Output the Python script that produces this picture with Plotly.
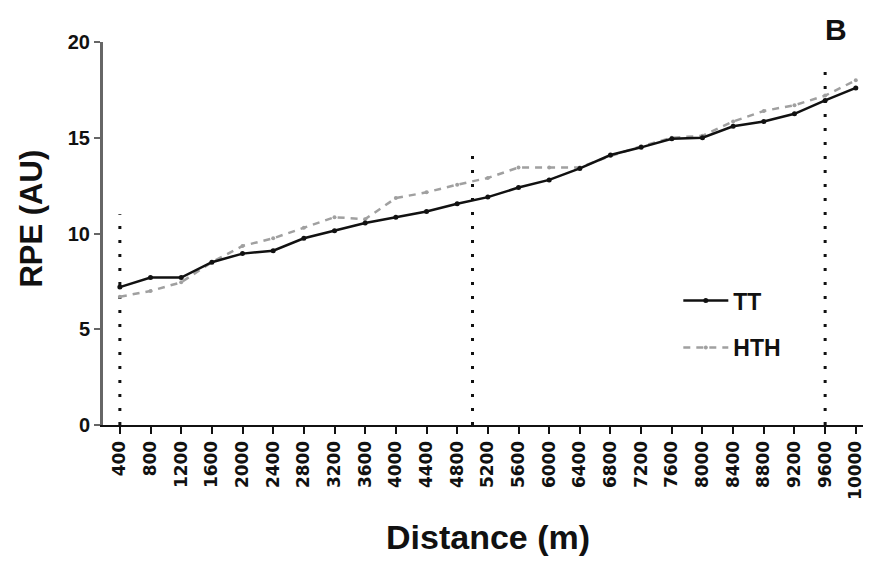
import plotly.graph_objects as go

distance = [400, 800, 1200, 1600, 2000, 2400, 2800, 3200, 3600, 4000, 4400, 4800,
            5200, 5600, 6000, 6400, 6800, 7200, 7600, 8000, 8400, 8800, 9200, 9600, 10000]
tick_labels = [str(d) for d in distance]
tt = [7.2, 7.7, 7.7, 8.5, 8.95, 9.1, 9.75, 10.15, 10.55, 10.85, 11.15, 11.55,
      11.9, 12.4, 12.8, 13.4, 14.1, 14.5, 14.95, 15.0, 15.6, 15.85, 16.25, 16.95, 17.6]
hth = [6.7, 7.0, 7.45, 8.5, 9.35, 9.75, 10.3, 10.85, 10.75, 11.85, 12.15, 12.55,
       12.9, 13.45, 13.45, 13.45, 14.05, 14.55, 15.0, 15.1, 15.85, 16.4, 16.7, 17.2, 18.0]
vline_x = [400, 5000, 9600]
vline_top = [11.0, 14.6, 18.5]

fig = go.Figure()

for xv, top in zip(vline_x, vline_top):
    fig.add_trace(go.Scatter(x=[xv, xv], y=[0, top], mode="lines",
                             line=dict(color="#111", width=3, dash="3px,11px"),
                             showlegend=False, hoverinfo="skip"))

fig.add_trace(go.Scatter(x=distance, y=hth, name="HTH", mode="lines+markers",
                         line=dict(color="#a0a0a0", width=2.5, dash="7px,6px"),
                         marker=dict(color="#a0a0a0", size=4),
                         legendgroup="b", legendrank=2))
fig.add_trace(go.Scatter(x=distance, y=tt, name="TT", mode="lines+markers",
                         line=dict(color="#111", width=2.5),
                         marker=dict(color="#111", size=5),
                         legendgroup="a", legendrank=1))

fig.update_layout(
    width=863, height=555,
    margin=dict(l=95, r=6, t=34, b=138),
    plot_bgcolor="white", paper_bgcolor="white",
    font=dict(family="Liberation Sans, Arial", color="#111"),
    legend=dict(x=0.755, y=0.381, xanchor="left", yanchor="top",
                bgcolor="rgba(0,0,0,0)", tracegroupgap=14, itemwidth=45,
                font=dict(size=23, weight="bold", family="Liberation Sans, Arial")),
    xaxis=dict(range=[180, 10120], tickmode="array", tickvals=distance, ticktext=tick_labels,
               tickangle=-90, showgrid=False, zeroline=False,
               showline=True, linecolor="#111", linewidth=2,
               ticks="outside", ticklen=7, tickwidth=2, tickcolor="#111",
               tickfont=dict(family="DejaVu Sans", size=17, weight="bold", color="#111")),
    yaxis=dict(range=[0, 20], tickvals=[0, 5, 10, 15, 20], showgrid=False, zeroline=False,
               showline=True, linecolor="#666", linewidth=3,
               ticks="outside", ticklen=6, tickwidth=2, tickcolor="#666",
               tickfont=dict(size=20, weight="bold", color="#111")),
    annotations=[
        dict(text="Distance (m)", xref="paper", yref="paper", x=0.505, y=-0.292,
             showarrow=False, font=dict(size=34, weight="bold"), xanchor="center", yanchor="middle"),
        dict(text="RPE (AU)", xref="paper", yref="paper", x=-0.094, y=0.54, textangle=-90,
             showarrow=False, font=dict(size=31, weight="bold"), xanchor="center", yanchor="middle"),
        dict(text="B", xref="paper", yref="paper", x=0.962, y=1.033,
             showarrow=False, font=dict(size=30, weight="bold"), xanchor="center", yanchor="middle"),
    ],
)

fig.write_html("out.html")
